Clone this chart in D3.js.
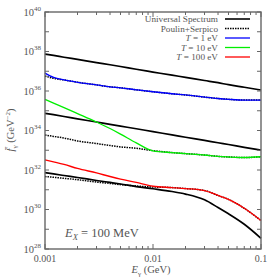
<!DOCTYPE html>
<html><head><meta charset="utf-8">
<script src="https://cdn.jsdelivr.net/npm/d3@7/dist/d3.min.js"></script>
<style>body{margin:0;background:#fff}svg{display:block}text{font-family:"Liberation Serif","DejaVu Serif",serif}</style>
</head><body><svg id="c" width="279" height="279"></svg>
<script>
// Photon energy grid (GeV)
const energy = [0.001, 0.0012, 0.0015, 0.002, 0.003, 0.004, 0.005, 0.007, 0.01, 0.015, 0.02, 0.03, 0.04, 0.05, 0.07, 0.1];
// Universal spectrum curves
const universalA = [7.41e37, 6.31e37, 5.13e37, 3.98e37, 2.75e37, 2.14e37, 1.74e37, 1.26e37, 9.12e36, 6.31e36, 4.90e36, 3.39e36, 2.63e36, 2.09e36, 1.55e36, 1.12e36];
const universalB = [7.41e34, 6.31e34, 5.13e34, 3.89e34, 2.69e34, 2.04e34, 1.66e34, 1.23e34, 8.71e33, 6.03e33, 4.57e33, 3.16e33, 2.40e33, 1.95e33, 1.41e33, 1.02e33];
const universalC = [7.41e31, 6.31e31, 5.25e31, 4.17e31, 2.95e31, 2.34e31, 1.95e31, 1.45e31, 1.12e31, 8.13e30, 6.03e30, 3.09e30, 1.26e30, 6.03e29, 1.78e29, 3.47e28];
// Poulin+Serpico curves
const poulinA = [5.75e36, 4.37e36, 3.63e36, 2.75e36, 2.04e36, 1.62e36, 1.45e36, 1.15e36, 9.12e35, 7.24e35, 6.31e35, 4.90e35, 4.17e35, 3.80e35, 3.47e35, 3.47e35];
const poulinB = [5.89e33, 5.01e33, 4.17e33, 2.95e33, 2.19e33, 1.74e33, 1.48e33, 1.26e33, 9.55e32, 7.59e32, 6.76e32, 5.75e32, 4.90e32, 4.57e32, 4.27e32, 4.68e32];
const poulinC = [4.68e31, 4.27e31, 3.80e31, 3.24e31, 2.45e31, 2.09e31, 1.82e31, 1.55e31, 1.38e31, 1.29e31, 1.15e31, 9.12e30, 5.13e30, 3.24e30, 1.15e30, 2.75e29];
// Temperature curves
const temp1eV = [8.13e36, 4.90e36, 3.63e36, 2.75e36, 2.04e36, 1.62e36, 1.45e36, 1.15e36, 9.12e35, 7.24e35, 6.31e35, 4.90e35, 4.17e35, 3.80e35, 3.47e35, 3.47e35];
const temp10eV = [3.80e35, 2.45e35, 1.45e35, 7.24e34, 2.69e34, 1.26e34, 6.61e33, 2.34e33, 9.33e32, 7.59e32, 6.76e32, 5.75e32, 4.90e32, 4.57e32, 4.27e32, 4.68e32];
const temp100eV = [3.24e32, 2.57e32, 1.91e32, 1.20e32, 7.08e31, 4.68e31, 3.47e31, 2.34e31, 1.51e31, 1.29e31, 1.15e31, 9.12e30, 5.13e30, 3.24e30, 1.15e30, 2.75e29];

const xTickLabels = ["0.001", "0.01", "0.1"];
const xTickValues = [0.001, 0.01, 0.1];
const yTickExps = [28, 30, 32, 34, 36, 38, 40];
const legendLabels = ["Universal Spectrum", "Poulin+Serpico", "T = 1 eV", "T = 10 eV", "T = 100 eV"];

const svg = d3.select("#c");
const L = 45, R = 261, T = 12, B = 249;
const x = d3.scaleLog().domain([0.001, 0.1]).range([L, R]);
const y = d3.scaleLog().domain([1e28, 1e40]).range([B, T]);
const axisCol = "#666", textCol = "#555";

const line = d3.line().x(d => x(d[0])).y(d => y(d[1])).curve(d3.curveMonotoneX);
const pts = arr => energy.map((e, i) => [e, arr[i]]);

const g = svg.append("g");
// dashed (drawn under colored lines)
[poulinA, poulinB, poulinC].forEach(a => g.append("path").attr("d", line(pts(a)))
  .attr("fill", "none").attr("stroke", "#000").attr("stroke-width", 1.5).attr("stroke-dasharray", "1.5,1"));
[universalA, universalB, universalC].forEach(a => g.append("path").attr("d", line(pts(a)))
  .attr("fill", "none").attr("stroke", "#000").attr("stroke-width", 1.7));
[[temp1eV, "#0000ff"], [temp10eV, "#00ee00"], [temp100eV, "#ff0000"]].forEach(([a, c]) =>
  g.append("path").attr("d", line(pts(a))).attr("fill", "none").attr("stroke", c).attr("stroke-width", 1.35));

// frame
svg.append("rect").attr("x", L).attr("y", T).attr("width", R - L).attr("height", B - T)
  .attr("fill", "none").attr("stroke", axisCol).attr("stroke-width", 1.4);

// x ticks (major + minor)
const xt = [];
[0.001, 0.01].forEach(d => { for (let k = 1; k <= 9; k++) xt.push(d * k); });
xt.push(0.1);
xt.forEach(v => {
  const major = xTickValues.some(m => Math.abs(m - v) < 1e-9);
  const len = major ? 5 : 3;
  [[B, -len], [T, len]].forEach(([yy, dl]) =>
    svg.append("line").attr("x1", x(v)).attr("x2", x(v)).attr("y1", yy).attr("y2", yy + dl)
      .attr("stroke", axisCol).attr("stroke-width", 1));
});
// y ticks each decade
d3.range(28, 41).forEach(e => {
  const yy = y(Math.pow(10, e));
  [[L, 4], [R, -4]].forEach(([xx, dl]) =>
    svg.append("line").attr("x1", xx).attr("x2", xx + dl).attr("y1", yy).attr("y2", yy)
      .attr("stroke", axisCol).attr("stroke-width", 1));
});
// x tick labels
xTickValues.forEach((v, i) => svg.append("text").attr("x", x(v)).attr("y", 262)
  .attr("text-anchor", "middle").attr("font-size", 10).attr("fill", textCol).text(xTickLabels[i]));
// y tick labels
yTickExps.forEach(e => {
  const t = svg.append("text").attr("x", 41).attr("y", y(Math.pow(10, e)) + 3.5)
    .attr("text-anchor", "end").attr("font-size", 10.5).attr("fill", textCol);
  t.append("tspan").text("10");
  t.append("tspan").attr("font-size", 7).attr("dy", -5).text(e);
});
// axis titles
const xl = svg.append("text").attr("x", 151).attr("y", 273).attr("text-anchor", "middle")
  .attr("font-size", 10.5).attr("fill", textCol);
xl.append("tspan").attr("font-style", "italic").text("E");
xl.append("tspan").attr("font-size", 7).attr("dy", 2.5).text("γ");
xl.append("tspan").attr("dy", -2.5).text(" (GeV)");

const yl = svg.append("text").attr("transform", "translate(14,130) rotate(-90)")
  .attr("text-anchor", "middle").attr("font-size", 10.5).attr("fill", textCol);
yl.append("tspan").attr("font-style", "italic").text("f\u0304");
yl.append("tspan").attr("font-size", 7).attr("dy", 2.5).text("γ");
yl.append("tspan").attr("dy", -2.5).text(" (GeV");
yl.append("tspan").attr("font-size", 7).attr("dy", -4).text("−2");
yl.append("tspan").attr("dy", 4).text(")");

// annotation
const an = svg.append("text").attr("x", 65).attr("y", 237).attr("font-size", 12.5).attr("fill", textCol);
an.append("tspan").attr("font-style", "italic").text("E");
an.append("tspan").attr("font-style", "italic").attr("font-size", 8.5).attr("dy", 3).text("X");
an.append("tspan").attr("dy", -3).text(" = 100 MeV");

// legend
const legCols = [["#000", null], ["#000", "1.5,1"], ["#0000ff", null], ["#00ee00", null], ["#ff0000", null]];
legendLabels.forEach((lab, i) => {
  const yy = 19 + i * 9.5;
  const t = svg.append("text").attr("x", 218).attr("y", yy + 3.1).attr("text-anchor", "end")
    .attr("font-size", 9.2).attr("fill", textCol);
  if (lab.startsWith("T")) {
    t.append("tspan").attr("font-style", "italic").text("T");
    t.append("tspan").text(lab.slice(1));
  } else t.text(lab);
  svg.append("line").attr("x1", 225).attr("x2", 250).attr("y1", yy).attr("y2", yy)
    .attr("stroke", legCols[i][0]).attr("stroke-width", i < 2 ? 1.6 : 1.3)
    .attr("stroke-dasharray", legCols[i][1]);
});
</script></body></html>
